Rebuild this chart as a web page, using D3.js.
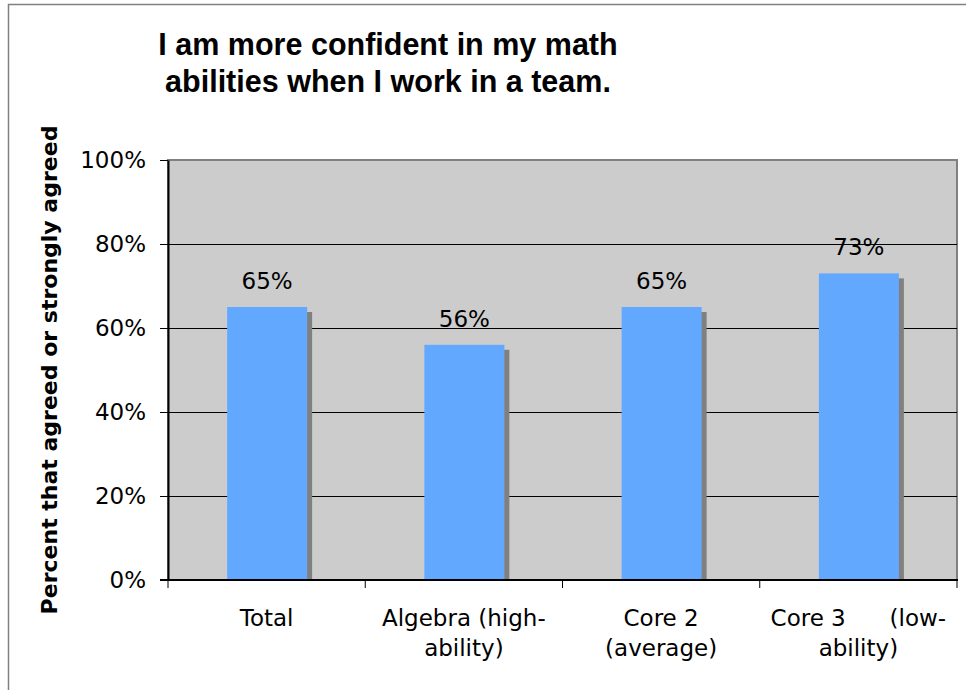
<!DOCTYPE html>
<html>
<head>
<meta charset="utf-8">
<script src="https://cdn.jsdelivr.net/npm/d3@7"></script>
<style>
  body { margin: 0; background: #fff; }
  svg text { font-family: "DejaVu Sans", Verdana, sans-serif; }
</style>
</head>
<body>
<div id="chart"></div>
<script>
var categories = [
    ["Total"],
    ["Algebra (high-", "ability)"],
    ["Core 2", "(average)"],
    ["Core 3\u00a0\u00a0\u00a0\u00a0\u00a0\u00a0(low-", "ability)"]
];
var values = [65, 56, 65, 73];
var yTicks = [0, 20, 40, 60, 80, 100];
var titleLines = ["I am more confident in my math", "abilities when I work in a team."];
var yTitle = "Percent that agreed or strongly agreed";

var width = 966, height = 690;
var margin = {top: 160, right: 9, bottom: 110, left: 168};
var w = width - margin.left - margin.right;
var h = height - margin.top - margin.bottom;

var svg = d3.select("#chart").append("svg")
    .attr("width", width)
    .attr("height", height);

// outer chart border
svg.append("rect")
    .attr("x", 8.5).attr("y", 4.5)
    .attr("width", 980).attr("height", 720)
    .attr("fill", "#fff")
    .attr("stroke", "#808080")
    .attr("stroke-width", 1.5);

var g = svg.append("g")
    .attr("transform", "translate(" + margin.left + "," + margin.top + ")");

var x = d3.scaleBand()
    .domain(d3.range(categories.length))
    .range([0, w]);

var y = d3.scaleLinear()
    .domain([0, 100])
    .range([h, 0]);

// plot area
g.append("rect")
    .attr("width", w).attr("height", h)
    .attr("fill", "#cccccc")
    .attr("stroke", "#808080")
    .attr("stroke-width", 2);

// gridlines
g.append("g")
    .attr("class", "grid")
    .call(d3.axisLeft(y).tickValues(yTicks.slice(1, -1)).tickSize(-w).tickFormat(""))
    .call(function(s) {
        s.select(".domain").remove();
        s.selectAll("line").attr("stroke", "#000").attr("stroke-width", 1);
    });

// bars: shadow then bar
var barW = 80;
var bars = g.selectAll(".bar")
    .data(values)
    .enter().append("g")
    .attr("class", "bar")
    .attr("transform", function(d, i) {
        return "translate(" + (x(i) + x.bandwidth() / 2 - barW / 2 + 0.5) + ",0)";
    });

bars.append("rect")
    .attr("x", 5)
    .attr("y", function(d) { return y(d) + 5; })
    .attr("width", barW)
    .attr("height", function(d) { return h - y(d) - 5; })
    .attr("fill", "#808080");

bars.append("rect")
    .attr("x", 0)
    .attr("y", function(d) { return y(d); })
    .attr("width", barW)
    .attr("height", function(d) { return h - y(d); })
    .attr("fill", "#63a8ff");

bars.append("text")
    .attr("x", barW / 2)
    .attr("y", function(d) { return y(d) - 18; })
    .attr("text-anchor", "middle")
    .style("font-size", "23px")
    .attr("fill", "#000")
    .text(function(d) { return d + "%"; });

// y axis
g.append("g")
    .attr("class", "y axis")
    .call(d3.axisLeft(y).tickValues(yTicks).tickSize(8).tickSizeOuter(0).tickPadding(14)
        .tickFormat(function(d) { return d + "%"; }))
    .call(function(s) {
        s.select(".domain").attr("stroke", "#000").attr("stroke-width", 2);
        s.selectAll("line").attr("stroke", "#000");
        s.selectAll("text").style("font-size", "23px").attr("fill", "#000")
            .attr("font-family", null);
    });

// x axis
var xAxis = g.append("g")
    .attr("class", "x axis")
    .attr("transform", "translate(0," + h + ")")
    .call(d3.axisBottom(x).tickSize(0).tickSizeOuter(0).tickFormat(""));
xAxis.select(".domain").attr("stroke", "#000").attr("stroke-width", 2).attr("d", "M-8,0H" + (w + 1));

// category boundary ticks
xAxis.selectAll(".bound")
    .data(d3.range(categories.length + 1))
    .enter().append("line")
    .attr("x1", function(i) { return i * x.bandwidth(); })
    .attr("x2", function(i) { return i * x.bandwidth(); })
    .attr("y1", 0).attr("y2", 8)
    .attr("stroke", "#000");

xAxis.selectAll(".cat")
    .data(categories)
    .enter().append("text")
    .attr("class", "cat")
    .attr("text-anchor", "middle")
    .attr("x", function(d, i) { return x(i) + x.bandwidth() / 2; })
    .attr("y", 46)
    .style("font-size", "23px")
    .attr("fill", "#000")
    .selectAll("tspan")
    .data(function(d) { return d; })
    .enter().append("tspan")
    .attr("x", function() { return d3.select(this.parentNode).attr("x"); })
    .attr("dy", function(d, i) { return i === 0 ? 0 : 30; })
    .text(function(d) { return d; });

// title
svg.append("text")
    .attr("text-anchor", "middle")
    .style("font-family", "'Liberation Sans', Arial, sans-serif")
    .style("font-size", "30.5px")
    .style("font-weight", "bold")
    .selectAll("tspan")
    .data(titleLines)
    .enter().append("tspan")
    .attr("x", 388)
    .attr("y", function(d, i) { return 55 + i * 37; })
    .text(function(d) { return d; });

// y axis title
svg.append("text")
    .attr("transform", "translate(57," + (margin.top + h / 2 - 0) + ") rotate(-90)")
    .attr("text-anchor", "middle")
    .style("font-size", "22px")
    .style("font-weight", "bold")
    .text(yTitle);
</script>
</body>
</html>
